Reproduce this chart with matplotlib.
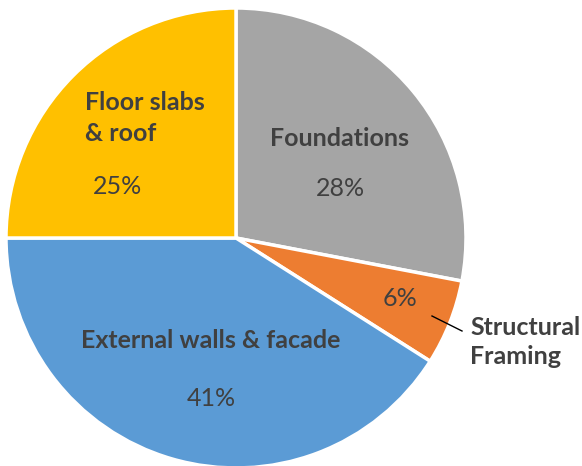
import numpy as np
import matplotlib
matplotlib.use("Agg")
import matplotlib.pyplot as plt

# data
categories = ["Foundations", "Structural\nFraming", "External walls & facade", "Floor slabs\n& roof"]
shares = [28, 6, 41, 25]
colors = ["#A5A5A5", "#ED7D31", "#5B9BD5", "#FFC000"]
txt = "#404040"

plt.rcParams['font.family'] = ['Lato', 'DejaVu Sans']

W, H = 582, 466
fig = plt.figure(figsize=(W / 100, H / 100), dpi=100)
ax = fig.add_axes([0, 0, 1, 1])

wedges, _ = ax.pie(shares, colors=colors, startangle=90, counterclock=False,
                   radius=230, center=(236, H - 238),
                   wedgeprops=dict(edgecolor="white", linewidth=2.5))
ax.set_xlim(0, W)
ax.set_ylim(0, H)
ax.set_aspect("equal")
ax.axis("off")

def y(p):
    # pixel row -> data y
    return H - p

fs = 18
# Foundations
ax.text(340, y(138), categories[0], ha="center", va="center", fontsize=fs, fontweight="bold", color=txt)
ax.text(340, y(189), "%d%%" % shares[0], ha="center", va="center", fontsize=fs, color=txt)
# Structural framing
ax.text(400, y(298), "%d%%" % shares[1], ha="center", va="center", fontsize=fs, color=txt)
ax.text(470, y(342), categories[1], ha="left", va="center", fontsize=fs, fontweight="bold",
        color=txt, linespacing=1.35)
ax.plot([432, 462], [y(316), y(331)], color="black", lw=1)
# External walls
ax.text(211, y(340), categories[2], ha="center", va="center", fontsize=fs, fontweight="bold", color=txt)
ax.text(211, y(398), "%d%%" % shares[2], ha="center", va="center", fontsize=fs, color=txt)
# Floor slabs
ax.text(85, y(118), categories[3], ha="left", va="center", fontsize=fs, fontweight="bold",
        color=txt, linespacing=1.38)
ax.text(118, y(187), "%d%%" % shares[3], ha="center", va="center", fontsize=fs, color=txt)

fig.savefig("out.png", dpi=100)
